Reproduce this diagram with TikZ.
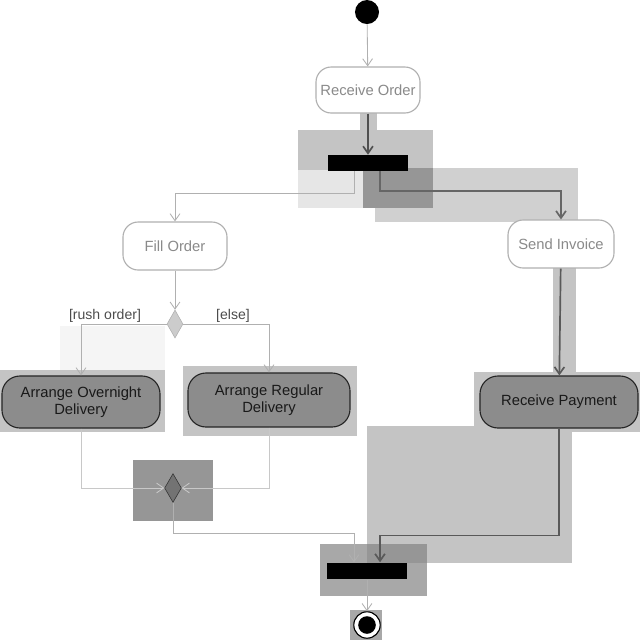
\documentclass[tikz,border=0pt]{standalone}
\usepackage{fontspec}
\setmainfont{Liberation Sans}
\usetikzlibrary{arrows.meta,shapes.geometric,calc}
\definecolor{hlA}{HTML}{C4C4C4}
\definecolor{hlB}{HTML}{969696}
\definecolor{hlC}{HTML}{E6E6E6}
\definecolor{hlD}{HTML}{A8A8A8}
\definecolor{actfill}{HTML}{8C8C8C}
\definecolor{lineL}{HTML}{B0B0B0}
\definecolor{lineD}{HTML}{505050}
\definecolor{txtL}{HTML}{8A8A8A}
\begin{document}
\begin{tikzpicture}[x=0.025cm,y=-0.025cm,
  font=\fontsize{10.5}{12}\selectfont,
  act/.style={draw=lineL,fill=white,rounded corners=0.38cm,text=txtL,align=center,inner sep=0pt,thick},
  actd/.style={draw=black!85,fill=actfill,rounded corners=0.45cm,text=black!90,align=center,inner sep=0pt,thick},
  bar/.style={fill=black,draw=none,inner sep=0pt},
  arrL/.style={draw=lineL,semithick,-{Straight Barb[length=5pt,width=7pt]}},
  arrD/.style={draw=lineD,very thick,-{Straight Barb[length=5pt,width=7pt]}},
  guard/.style={text=black!70,font=\fontsize{10}{12}\selectfont,inner sep=1pt}]
\useasboundingbox (0,0) rectangle (640,640);
% highlight boxes (background)
\fill[hlA] (298,130) rectangle (433,195);
\fill[hlC] (298,170) rectangle (363,208);
\fill[hlA!80] (375,168) rectangle (578,222);
\fill[hlB] (363,168) rectangle (433,208);
\fill[hlA] (553,268) rectangle (576,376);
\fill[hlA] (360,112) rectangle (377,135);
\fill[hlC!40] (60,326) rectangle (165,372);
\fill[hlA] (0,370) rectangle (165,432);
\fill[hlA] (183,366) rectangle (357,436);
\fill[hlA] (474,372) rectangle (640,432);
\fill[hlA] (367,426) rectangle (572,563);
\fill[hlB] (133,460) rectangle (213,521);
\fill[hlD] (320,544) rectangle (427,596);
\fill[hlB] (367,544) rectangle (427,563);
\fill[hlD] (350,610) rectangle (382,640);
% nodes
\node[circle,fill=black,minimum size=0.6cm,inner sep=0pt] (start) at (367,12) {};
\node[act,minimum width=2.6cm,minimum height=1.15cm] (ro) at (368,90) {Receive Order};
\node[bar,minimum width=2cm,minimum height=0.4cm] (fork1) at (368,163) {};
\node[act,minimum width=2.6cm,minimum height=1.2cm] (fo) at (175,246) {Fill Order};
\node[act,minimum width=2.65cm,minimum height=1.2cm] (si) at (561,244) {Send Invoice};
\node[diamond,draw=lineL,fill=black!20,minimum width=0.4cm,minimum height=0.7cm,inner sep=0pt,aspect=0.57] (d1) at (175,324) {};
\node[actd,minimum width=3.95cm,minimum height=1.3cm] (aod) at (81,402) {Arrange Overnight\\Delivery};
\node[actd,minimum width=4.05cm,minimum height=1.35cm] (ard) at (269,400) {Arrange Regular\\Delivery};
\node[actd,minimum width=3.95cm,minimum height=1.3cm] (rp) at (559,402) {Receive Payment};
\node[diamond,draw=black!80,fill=black!55,minimum width=0.42cm,minimum height=0.72cm,inner sep=0pt,aspect=0.58] (d2) at (173,488) {};
\node[bar,minimum width=2cm,minimum height=0.42cm] (join) at (367,571) {};
\node[circle,draw=black,thick,fill=white,minimum size=0.66cm,inner sep=0pt] (end) at (367,625) {};
\node[circle,fill=black,minimum size=0.44cm,inner sep=0pt] (endin) at (367,625) {};
% connectors
\draw[arrL] (start) -- (ro);
\draw[arrD] (ro) -- (fork1);
\draw[arrL] ($(fork1.south)+(-14,0)$) -- ++(0,22) -| (fo.north);
\draw[arrD,draw=black!60] ($(fork1.south)+(12,0)$) -- ++(0,20) -| (si.north);
\draw[arrL] (fo) -- (d1);
\draw[arrL] (d1.west) -| node[guard,pos=0.36,above] {[rush order]} (aod.north);
\draw[arrL] (d1.east) -| node[guard,pos=0.29,above] {[else]} (ard.north);
\draw[arrD,draw=black!65] (si) -- (rp);
\draw[arrL,draw=lineL!70] (aod.south) |- (d2.west);
\draw[arrL,draw=lineL!70] (ard.south) |- (d2.east);
\draw[arrL] (d2.south) -- ++(0,31) -| ($(join.north)+(-13,0)$);
\draw[arrD,draw=black!65] (rp.south) -- ++(0,107) -| ($(join.north)+(13,0)$);
\draw[arrL] (join) -- (end);
\end{tikzpicture}
\end{document}
